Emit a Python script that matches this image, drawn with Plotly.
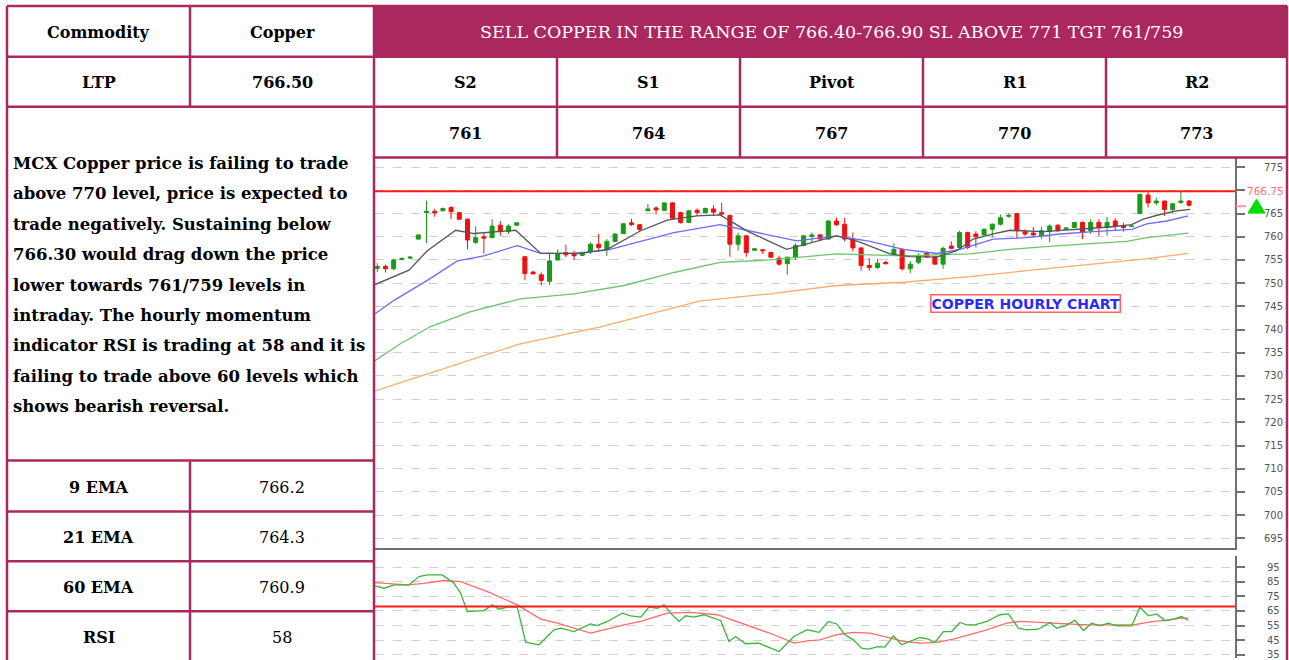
import plotly.graph_objects as go

W, H = 1289, 660


def px(x):
    return x / W


def py(y):
    return 1 - y / H


# ---------------- data ----------------
candle_idx = list(range(100))
open_ = [753.2, 753.6, 753.1, 755.1, 755.4, 759.5, 765.2, 765.5, 765.6, 766.3,
         765.2, 763.8, 758.8, 760.0, 759.8, 762.5, 761.1, 762.5, 755.7, 752.4,
         751.8, 750.4, 755.0, 756.6, 756.3, 756.0, 756.8, 758.4, 757.3, 759.0,
         760.7, 763.0, 762.6, 765.6, 766.2, 765.7, 767.3, 765.2, 763.1, 765.7,
         765.2, 766.0, 765.2, 764.6, 758.4, 760.2, 757.1, 757.2, 756.6, 755.4,
         754.2, 755.6, 758.1, 760.1, 760.4, 759.5, 763.4, 762.7, 759.5, 757.6,
         753.8, 753.4, 754.5, 756.3, 757.3, 753.1, 754.5, 756.4, 755.7, 754.1,
         758.0, 757.7, 760.9, 760.6, 760.4, 761.6, 762.7, 764.4, 765.0, 761.1,
         760.8, 760.2, 761.1, 762.5, 761.6, 762.0, 763.1, 761.3, 763.1, 762.0,
         763.4, 762.3, 762.2, 765.0, 769.0, 767.3, 767.7, 765.9, 767.4, 767.7]
high = [754.3, 754.0, 755.3, 755.6, 755.8, 760.5, 767.8, 766.0, 766.3, 766.6,
        765.4, 763.9, 762.3, 760.9, 763.8, 763.4, 762.7, 763.1, 755.8, 752.6,
        752.3, 756.3, 757.3, 758.3, 757.0, 756.8, 758.8, 760.6, 759.5, 760.7,
        762.9, 763.9, 762.7, 767.1, 766.6, 767.4, 767.5, 765.4, 765.8, 766.1,
        766.3, 766.8, 767.3, 764.8, 760.9, 760.3, 757.5, 757.4, 756.7, 755.9,
        755.7, 758.6, 760.3, 760.9, 760.6, 763.5, 764.1, 764.1, 760.9, 757.7,
        755.4, 755.2, 754.8, 758.6, 757.5, 754.8, 756.4, 756.8, 755.8, 757.9,
        759.0, 761.3, 761.1, 761.2, 761.8, 762.9, 764.8, 765.0, 765.1, 761.6,
        762.1, 762.1, 762.7, 762.7, 762.0, 763.2, 763.3, 763.8, 763.8, 764.3,
        764.0, 763.0, 762.4, 769.3, 769.7, 768.5, 767.8, 767.3, 769.7, 767.9]
low = [752.4, 752.3, 752.8, 754.9, 755.2, 759.4, 758.6, 764.3, 765.5, 763.8,
       763.6, 757.3, 758.4, 756.4, 759.7, 760.2, 760.6, 762.3, 750.6, 751.9,
       749.5, 749.6, 754.9, 755.6, 755.0, 755.9, 756.3, 756.8, 755.9, 758.9,
       760.6, 762.3, 761.1, 765.5, 764.8, 765.5, 763.6, 762.8, 763.0, 764.5,
       765.1, 764.5, 764.5, 755.7, 757.0, 755.7, 757.0, 756.3, 755.5, 753.8,
       751.8, 755.0, 758.0, 758.8, 759.3, 759.4, 762.3, 759.0, 756.8, 752.7,
       752.7, 753.1, 754.0, 755.9, 752.7, 752.2, 754.1, 755.4, 754.0, 753.1,
       757.3, 757.3, 757.3, 757.7, 760.3, 759.8, 762.4, 764.1, 759.5, 760.2,
       759.8, 759.5, 758.8, 761.1, 761.5, 761.9, 759.5, 760.6, 760.2, 760.2,
       761.3, 761.1, 762.1, 764.9, 766.3, 766.8, 764.5, 765.2, 767.1, 766.5]
close = [753.6, 753.1, 755.0, 755.3, 755.6, 760.4, 765.5, 765.2, 766.1, 765.4,
         763.8, 759.3, 759.8, 759.7, 762.3, 761.1, 762.3, 763.0, 752.1, 752.0,
         750.6, 754.8, 756.4, 756.1, 755.9, 756.6, 758.4, 757.7, 759.0, 760.6,
         762.8, 762.6, 761.6, 766.0, 765.8, 767.3, 764.0, 763.1, 765.6, 765.2,
         766.1, 765.3, 764.9, 758.4, 760.2, 756.6, 757.4, 757.0, 755.6, 754.1,
         755.6, 758.1, 760.2, 760.4, 759.5, 763.4, 762.6, 759.5, 757.6, 753.8,
         753.4, 754.3, 754.2, 757.3, 753.1, 754.1, 755.9, 755.7, 754.1, 757.5,
         757.5, 760.9, 757.7, 760.0, 761.6, 762.7, 764.1, 764.6, 761.3, 760.6,
         760.4, 761.3, 762.3, 761.3, 761.9, 763.1, 760.9, 763.1, 762.0, 763.1,
         762.3, 762.0, 762.3, 769.1, 767.3, 767.7, 765.9, 767.1, 767.7, 766.8]

ema9_x = [-0.28, 3.87, 6.10, 9.56, 11.79, 16.88, 19.93, 24.80, 28.05, 32.12,
          35.37, 38.95, 41.79, 45.25, 49.93, 52.77, 56.02, 58.46, 62.52, 64.96,
          68.22, 70.66, 72.68, 75.12, 77.16, 81.22, 85.29, 89.35, 92.0, 93.41,
          95.45, 97.49, 99.11]
ema9_y = [749.7, 752.8, 757.0, 761.4, 760.7, 761.4, 756.4, 756.4, 757.3, 761.3,
          763.6, 764.5, 764.7, 761.1, 757.3, 758.6, 760.2, 759.1, 756.3, 755.7,
          755.6, 757.0, 759.5, 760.6, 761.4, 761.1, 761.6, 762.1, 762.6, 763.8,
          764.8, 765.6, 765.9]

ema21_x = [-0.28, 2.04, 6.10, 9.76, 13.01, 17.07, 19.93, 23.99, 28.05, 32.12,
           36.18, 41.79, 45.85, 51.15, 56.02, 60.09, 64.15, 68.22, 71.06, 75.12,
           79.19, 83.26, 87.32, 92.0, 93.83, 96.27, 98.9]
ema21_y = [743.4, 746.3, 750.6, 754.8, 755.9, 758.1, 756.4, 756.4, 757.1, 759.0,
           760.9, 762.6, 761.1, 759.1, 760.2, 759.0, 757.3, 756.4, 757.3, 759.5,
           759.8, 760.6, 761.1, 761.6, 762.8, 763.4, 764.5]

ema60_x = [-0.28, 2.77, 6.43, 11.3, 17.4, 23.99, 30.09, 36.18, 41.79, 47.89,
           56.02, 64.15, 72.28, 77.16, 83.26, 91.4, 93.83, 98.9]
ema60_y = [733.3, 736.9, 740.6, 743.8, 746.6, 747.7, 749.5, 752.3, 754.5, 755.0,
           756.3, 755.9, 756.3, 757.3, 758.1, 759.0, 759.8, 760.8]

ema200_x = [-0.28, 8.87, 17.4, 27.2, 39.4, 47.89, 56.02, 64.15, 72.28, 79.19,
            87.32, 93.41, 98.9]
ema200_y = [726.8, 732.0, 736.9, 740.6, 746.2, 747.7, 749.5, 750.2, 751.4, 752.7,
            754.1, 755.2, 756.4]

rsi_x = [-0.28, 0.82, 2.04, 3.87, 5.09, 6.10, 7.93, 9.35, 10.17, 10.98,
         13.01, 14.03, 14.84, 15.86, 17.07, 18.09, 19.72, 21.55, 22.36, 23.99,
         26.02, 26.83, 28.05, 29.88, 30.90, 32.12, 33.13, 34.15, 34.96, 35.77,
         36.79, 37.60, 38.62, 39.84, 40.65, 41.87, 42.89, 43.70, 44.92, 46.55,
         48.99, 50.81, 52.44, 53.86, 55.0, 56.02, 57.04, 58.05, 59.07, 59.88,
         61.10, 61.91, 62.93, 63.95, 64.96, 66.18, 67.20, 68.01, 69.03, 70.05,
         71.06, 71.88, 72.89, 74.32, 75.94, 76.96, 78.18, 79.19, 80.62, 82.04,
         82.85, 83.87, 85.09, 86.10, 87.12, 88.13, 89.15, 90.17, 92.0, 93.01,
         94.03, 95.05, 96.06, 97.08, 98.1, 98.92]
rsi_y = [82.2, 80.6, 82.9, 82.9, 88.6, 89.7, 89.7, 84.0, 77.2, 64.6,
         65.3, 69.2, 66.2, 67.6, 67.6, 43.6, 41.8, 52.1, 53.2, 50.9,
         56.1, 55.0, 57.8, 63.5, 61.7, 60.8, 67.6, 66.9, 69.2, 63.5,
         57.8, 61.7, 60.8, 62.4, 60.8, 58.5, 44.1, 47.5, 42.5, 42.9,
         37.2, 47.5, 52.1, 50.3, 57.8, 56.1, 48.7, 45.2, 39.5, 38.8,
         40.6, 40.2, 48.0, 41.8, 44.1, 46.8, 45.7, 43.4, 50.9, 50.9,
         57.1, 55.5, 55.5, 57.8, 62.4, 63.0, 53.2, 52.1, 52.5, 57.1,
         53.2, 54.8, 58.5, 51.6, 56.6, 54.8, 56.6, 54.8, 54.8, 67.6,
         61.7, 63.0, 58.5, 59.4, 61.2, 58.5]

rsi_sig_x = [-0.28, 3.66, 5.69, 8.13, 10.17, 13.42, 17.07, 19.93, 21.96, 26.02,
             30.09, 32.12, 35.37, 38.21, 41.46, 44.31, 48.37, 50.81, 52.44, 53.99,
             56.02, 58.05, 60.09, 62.12, 64.15, 66.18, 68.22, 70.25, 72.28, 74.32,
             76.76, 78.39, 82.45, 86.51, 92.2, 93.62, 94.64, 96.27, 97.89, 98.92]
rsi_sig_y = [84.5, 82.9, 84.0, 85.9, 85.2, 78.3, 69.2, 59.4, 56.6, 49.8,
             55.5, 57.8, 63.5, 64.0, 62.4, 56.6, 48.7, 42.9, 44.5, 45.2,
             48.7, 50.3, 49.8, 47.1, 44.1, 42.9, 43.4, 45.7, 48.7, 52.1,
             56.6, 57.8, 56.6, 55.5, 55.5, 57.1, 57.8, 58.5, 60.1, 60.1]

resistance_level = 769.8
resistance_label = "766.75"
ltp_marker = 766.6
rsi_level = 68

price_ticks = list(range(695, 780, 5))
price_tick_text = ["" if v == 770 else str(v) for v in price_ticks]
rsi_ticks = [35, 45, 55, 65, 75, 85, 95]

header_row = ["Commodity", "Copper"]
ltp_row = ["LTP", "766.50"]
banner = "SELL COPPER IN THE RANGE OF 766.40-766.90 SL ABOVE 771 TGT 761/759"
level_names = ["S2", "S1", "Pivot", "R1", "R2"]
level_values = ["761", "764", "767", "770", "773"]
comment_lines = [
    "MCX Copper price is failing to trade",
    "above 770 level, price is expected to",
    "trade negatively. Sustaining below",
    "766.30 would drag down the price",
    "lower towards 761/759 levels in",
    "intraday. The hourly momentum",
    "indicator RSI is trading at 58 and it is",
    "failing to trade above 60 levels which",
    "shows bearish reversal.",
]
indicator_names = ["9 EMA", "21 EMA", "60 EMA", "RSI"]
indicator_values = ["766.2", "764.3", "760.9", "58"]

# ---------------- figure ----------------
CRIMSON = "#AB285E"
fig = go.Figure()

fig.add_trace(go.Candlestick(
    x=candle_idx, open=open_, high=high, low=low, close=close,
    increasing=dict(line=dict(color="#1a9a1a", width=1), fillcolor="#1a9a1a"),
    decreasing=dict(line=dict(color="#f01010", width=1), fillcolor="#f01010"),
    whiskerwidth=0, showlegend=False, xaxis="x", yaxis="y"))

for xs, ys, col in [(ema200_x, ema200_y, "#ffab6b"), (ema60_x, ema60_y, "#6cc46c"),
                    (ema21_x, ema21_y, "#6a6aff"), (ema9_x, ema9_y, "#555555")]:
    fig.add_trace(go.Scatter(x=xs, y=ys, mode="lines", line=dict(color=col, width=1.3),
                             showlegend=False, xaxis="x", yaxis="y"))

fig.add_trace(go.Scatter(x=rsi_sig_x, y=rsi_sig_y, mode="lines",
                         line=dict(color="#ff6b6b", width=1.3), showlegend=False,
                         xaxis="x2", yaxis="y2"))
fig.add_trace(go.Scatter(x=rsi_x, y=rsi_y, mode="lines",
                         line=dict(color="#3cb43c", width=1.3), showlegend=False,
                         xaxis="x2", yaxis="y2"))

XR = [-0.28, 104.6]
XD = [px(375), px(1235)]
grid = dict(showgrid=True, gridcolor="#cfcfcf", griddash="dash", gridwidth=1)
tickfont = dict(family="DejaVu Sans", size=10, color="#555555")

fig.update_layout(
    width=W, height=H, margin=dict(l=0, r=0, t=0, b=0),
    paper_bgcolor="white", plot_bgcolor="white",
    xaxis=dict(domain=XD, range=XR, showgrid=False, showticklabels=False,
               ticks="", showline=True, linecolor="#707070", linewidth=1.5,
               rangeslider=dict(visible=False), anchor="y", zeroline=False),
    yaxis=dict(domain=[py(550), py(158)], range=[692.85, 777.08], side="right",
               tickvals=price_ticks, ticktext=price_tick_text, ticks="outside",
               ticklen=8, tickcolor="#707070",
               tickwidth=1.5, showline=True, linecolor="#707070", linewidth=2,
               tickfont=tickfont, ticklabelstandoff=17, zeroline=False,
               ticklabeloverflow="allow", anchor="x", **grid),
    xaxis2=dict(domain=XD, range=XR, showgrid=False, showticklabels=False,
                ticks="", showline=False, anchor="y2", zeroline=False),
    yaxis2=dict(domain=[0, py(558)], range=[32.74, 102.5], side="right",
                tickvals=rsi_ticks, ticks="outside", ticklen=8, tickcolor="#707070",
                tickwidth=1.5, showline=True, linecolor="#707070", linewidth=2,
                tickfont=tickfont, ticklabelstandoff=20, zeroline=False,
                ticklabeloverflow="allow", anchor="x2", **grid),
)

shapes = []
# header banner fill
shapes.append(dict(type="rect", xref="paper", yref="paper", x0=px(374), x1=px(1287),
                   y0=py(57), y1=py(6), fillcolor=CRIMSON, line=dict(width=0), layer="below"))


def hline(y, x0, x1):
    shapes.append(dict(type="line", xref="paper", yref="paper", x0=px(x0), x1=px(x1),
                       y0=py(y), y1=py(y), line=dict(color=CRIMSON, width=2.5)))


def vline(x, y0, y1):
    shapes.append(dict(type="line", xref="paper", yref="paper", x0=px(x), x1=px(x),
                       y0=py(y0), y1=py(y1), line=dict(color=CRIMSON, width=2.5)))


hline(6, 7, 1287)
hline(57, 7, 1287)
hline(107, 7, 1287)
hline(158, 374, 1287)
for yy in [462, 513, 563, 613]:
    hline(yy, 7, 374)
vline(7, 6, 662)
vline(190, 6, 107)
vline(190, 462, 662)
vline(374, 6, 662)
for xx in [557, 740, 923, 1106]:
    vline(xx, 57, 158)
vline(1287, 6, 662)

# resistance lines
shapes.append(dict(type="line", xref="x", yref="y", x0=XR[0], x1=XR[1],
                   y0=resistance_level, y1=resistance_level,
                   line=dict(color="#ff1a1a", width=2)))
shapes.append(dict(type="line", xref="x2", yref="y2", x0=XR[0], x1=XR[1],
                   y0=rsi_level, y1=rsi_level, line=dict(color="#ff1a1a", width=2)))
# LTP marker
shapes.append(dict(type="line", xref="paper", yref="y", x0=px(1236), x1=px(1246),
                   y0=ltp_marker, y1=ltp_marker, line=dict(color="#ff9a9a", width=2)))
tx = px(1256.5)
dy = 1.5
shapes.append(dict(type="path", xref="paper", yref="y",
                   path=f"M {px(1248)},{ltp_marker - dy} L {px(1265)},{ltp_marker - dy} L {tx},{ltp_marker + dy} Z",
                   fillcolor="#00dd00", line=dict(color="#00dd00", width=1)))

fig.update_layout(shapes=shapes)

ann = []


def text(x, y, s, size=16, color="black", bold=True, xanchor="center", family="DejaVu Serif"):
    ann.append(dict(xref="paper", yref="paper", x=px(x), y=py(y), text=(f"<b>{s}</b>" if bold else s),
                    showarrow=False, xanchor=xanchor, yanchor="middle",
                    font=dict(family=family, size=size, color=color)))


text(98.5, 33, header_row[0])
text(282, 33, header_row[1])
text(98.5, 83, ltp_row[0])
text(282, 83, ltp_row[1])
text(831, 32.5, banner, size=17.5, color="white", bold=False)
col_centers = [465.5, 648.5, 831.5, 1014.5, 1196.5]
for cx, nm, val in zip(col_centers, level_names, level_values):
    text(cx, 83, nm)
    text(cx, 134, val)
line_y = [164, 194.5, 225, 255.5, 286, 316.5, 347, 377.5, 408]
for ly, s in zip(line_y, comment_lines):
    text(11, ly, s, size=16.5, xanchor="left")
row_c = [489, 539, 589, 639]
for ry, nm, val in zip(row_c, indicator_names, indicator_values):
    text(98.5, ry, nm)
    text(282, ry, val, bold=False)

# chart labels
ann.append(dict(xref="paper", yref="y", x=px(1265), y=resistance_level, text=resistance_label,
                showarrow=False, xanchor="center", yanchor="middle",
                font=dict(family="DejaVu Sans", size=10.5, color="#ff7070")))
ann.append(dict(xref="paper", yref="paper", x=px(1025), y=py(304.5), text="<b>COPPER HOURLY CHART</b>",
                showarrow=False, xanchor="center", yanchor="middle",
                font=dict(family="DejaVu Sans", size=14, color="#2b2bff"),
                bordercolor="#ff6060", borderwidth=1.5, borderpad=0, bgcolor="white"))

fig.update_layout(annotations=ann)

fig.write_html("out.html")
